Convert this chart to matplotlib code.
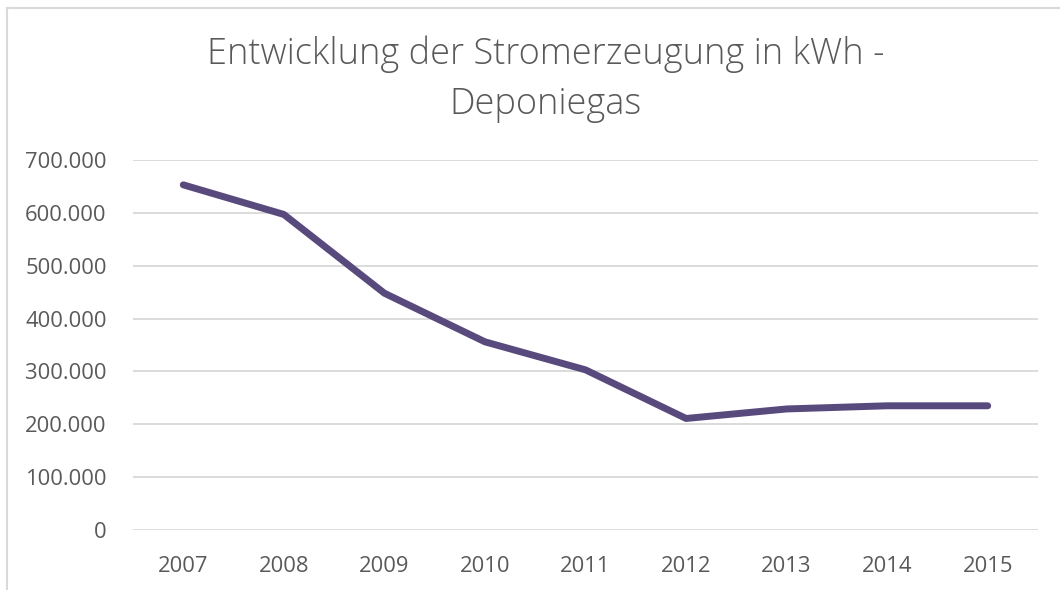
import matplotlib
matplotlib.use("Agg")
import matplotlib.pyplot as plt
from matplotlib.lines import Line2D
from matplotlib.ticker import FuncFormatter

years = ["2007", "2008", "2009", "2010", "2011", "2012", "2013", "2014", "2015"]
kwh = [653000, 597000, 448000, 356000, 303000, 211000, 229000, 235000, 235000]
yticks = [0, 100000, 200000, 300000, 400000, 500000, 600000, 700000]
title = "Entwicklung der Stromerzeugung in kWh -\nDeponiegas"

plt.rcParams['font.family'] = ['Open Sans', 'DejaVu Sans']

fig = plt.figure(figsize=(10.6, 5.9), dpi=100)
fig.patch.set_facecolor('white')
ax = fig.add_axes([133/1060, 1-530/590, (1038-133)/1060, (530-160)/590])

x = list(range(len(years)))
ax.plot(x, kwh, color='#594a7e', linewidth=5.0, solid_capstyle='round', solid_joinstyle='round', zorder=3)

ax.set_xlim(-0.5, len(years) - 0.5)
ax.set_ylim(0, 700000)
ax.set_yticks(yticks)
ax.yaxis.set_major_formatter(FuncFormatter(lambda v, p: "0" if v == 0 else f"{int(v):,}".replace(",", ".")))
ax.set_xticks(x)
ax.set_xticklabels(years)

ax.grid(axis='y', color='#d9d9d9', linewidth=1.3)
ax.set_axisbelow(True)
for s in ax.spines.values():
    s.set_visible(False)
ax.tick_params(axis='both', length=0, labelsize=15.8, labelcolor='#595959')
ax.tick_params(axis='y', pad=19)
ax.tick_params(axis='x', pad=19)

fig.text(0.515, 1-79/590, title, ha='center', va='center', fontsize=26, color='#595959',
         fontweight='light', linespacing=1.45)

# chart border
fig.add_artist(Line2D([7/1060, 7/1060], [0, 1-8/590], color='#d9d9d9', linewidth=1.5))
fig.add_artist(Line2D([7/1060, 1], [1-8/590, 1-8/590], color='#d9d9d9', linewidth=1.5))

fig.savefig("out.png", dpi=100, facecolor='white')
